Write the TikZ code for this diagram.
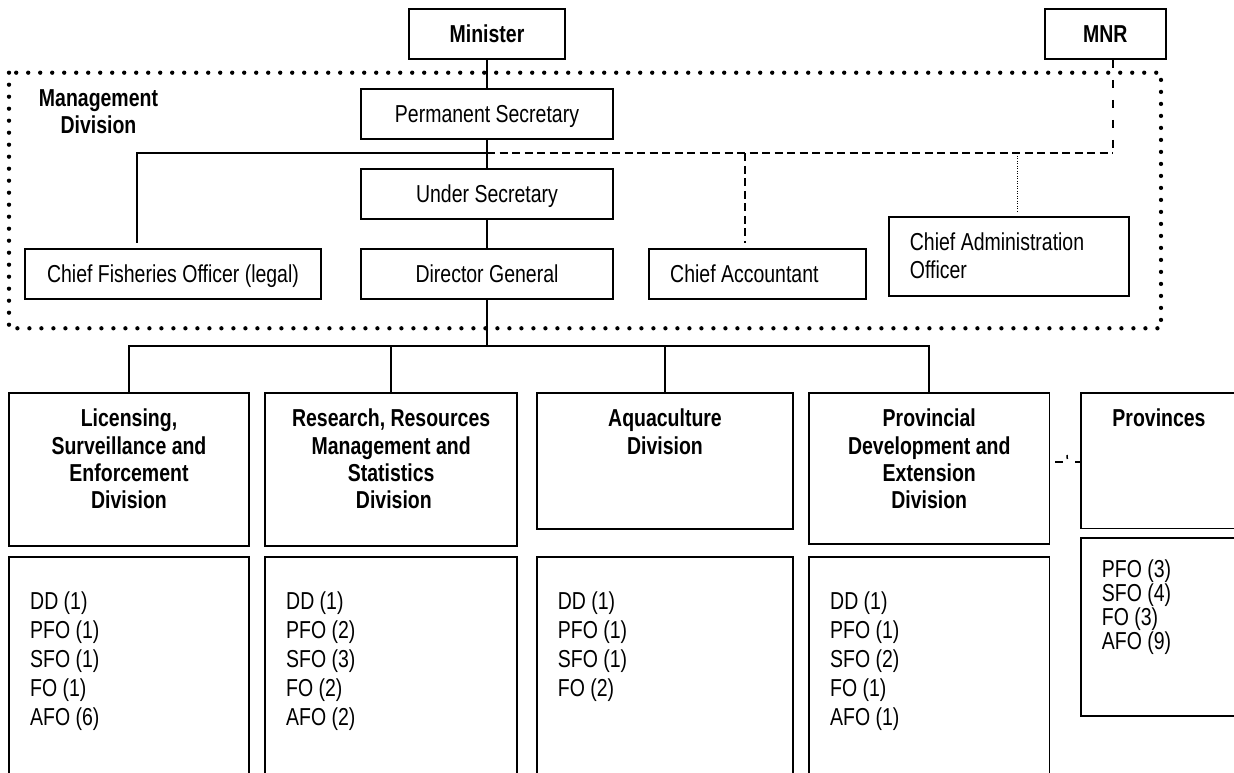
\documentclass[tikz,border=0pt]{standalone}
\usepackage{fontspec}
\setmainfont{Liberation Sans}[FakeStretch=0.795]
\newcommand\fsz{\fontsize{24.5}{27.3}\selectfont}
\newcommand\lst{\fontsize{24.5}{29}\selectfont}
\newcommand\lsp{\fontsize{24.5}{22.7}\selectfont}
\newcommand\st{\rule{0pt}{18pt}}
\newcommand\mkbox[7][]{%
  \node[box,#1,minimum width={#5-#3},minimum height={#6-#4}] (#2) at ({(#3+#5)/2},{(#4+#6)/2}) {#7};}
\tikzset{
  box/.style={draw, line width=1.8pt, inner sep=0pt, text height=17.5pt, text depth=0pt, font=\fsz},
  txt/.style={inner sep=0pt, font=\fsz},
  conn/.style={line width=1.8pt},
  dashconn/.style={line width=1.8pt, dash pattern=on 8pt off 4.5pt},
  dashvert/.style={line width=1.8pt, dash pattern=on 8pt off 12pt},
  finedot/.style={line width=1pt, dash pattern=on 1pt off 1.5pt},
  dotborder/.style={line width=4.3pt, dash pattern=on 0pt off 12pt, line cap=round},
}
\begin{document}
\begin{tikzpicture}[x=1pt,y=-1pt]
\useasboundingbox[fill=white] (0,0) rectangle (1234,773);
% dotted management border
\draw[dotborder] (9,72.7) rectangle (1161,328.3);
% top boxes
\mkbox{min}{408.7}{9}{565.3}{59}{\bfseries Minister}
\mkbox{mnr}{1045}{9}{1165.7}{59}{\bfseries MNR}
\mkbox{ps}{360.7}{89}{613.3}{138.7}{Permanent Secretary}
\mkbox{us}{360.7}{169}{613.3}{219}{Under Secretary}
\mkbox{dg}{360.7}{249}{613.3}{299}{Director General}
\mkbox{cfo}{24.7}{249}{321.3}{299}{Chief Fisheries Officer (legal)}
\mkbox{ca}{648.7}{249}{865.7}{299}{}
\mkbox{cao}{888.7}{217}{1129.3}{295.7}{}
\node[txt, anchor=base west] (catxt) at (670,282.5) {Chief Accountant};
\node[txt, anchor=north west, align=left] (caotxt) at (909.7,232.5) {\st Chief Administration\\Officer};
\node[txt, anchor=north, align=center] (mgmt) at (98.5,88) {\bfseries\st Management\\\bfseries Division};
% division boxes
\mkbox{lic}{9}{393.3}{249}{546}{}
\mkbox{res}{265}{393.3}{517.3}{546}{}
\mkbox{aqu}{536.7}{393.3}{793.3}{529.3}{}
\mkbox{pde}{809}{393.3}{1049.5}{544}{}
\mkbox{prv}{1081}{393.3}{1237}{528.5}{}
\node[txt, anchor=north, align=center] (lich) at (lic.north |- 0,408.7) {\bfseries\st Licensing,\\\bfseries Surveillance and\\\bfseries Enforcement\\\bfseries Division};
\node[txt, anchor=north, align=center] (resh) at (res.north |- 0,408.7) {\bfseries\st Research, Resources\\\bfseries Management and\\\bfseries Statistics\\\bfseries \ Division};
\node[txt, anchor=north, align=center] (aquh) at (aqu.north |- 0,408.7) {\bfseries\st Aquaculture\\\bfseries Division};
\node[txt, anchor=north, align=center] (pdeh) at (pde.north |- 0,408.7) {\bfseries\st Provincial\\\bfseries Development and\\\bfseries Extension\\\bfseries Division};
\node[txt, anchor=north, align=center] (prvh) at (prv.north |- 0,408.7) {\bfseries\st Provinces};
% staff boxes
\mkbox{licl}{9}{557}{249}{800}{}
\mkbox{resl}{265}{557}{517.3}{800}{}
\mkbox{aqul}{536.7}{557}{793.3}{800}{}
\mkbox{pdel}{809}{557}{1049.5}{800}{}
\mkbox{prvl}{1081}{537.7}{1237}{715.7}{}
\node[txt, font=\lst, anchor=north west, align=left] (licx) at (30,591) {\st DD (1)\\PFO (1)\\SFO (1)\\FO (1)\\AFO (6)};
\node[txt, font=\lst, anchor=north west, align=left] (resx) at (286,591) {\st DD (1)\\PFO (2)\\SFO (3)\\FO (2)\\AFO (2)};
\node[txt, font=\lst, anchor=north west, align=left] (aqux) at (557.7,591) {\st DD (1)\\PFO (1)\\SFO (1)\\FO (2)};
\node[txt, font=\lst, anchor=north west, align=left] (pdex) at (830,591) {\st DD (1)\\PFO (1)\\SFO (2)\\FO (1)\\AFO (1)};
\node[txt, font=\lsp, anchor=north west, align=left] (prvx) at (1101.7,559.5) {\st PFO (3)\\SFO (4)\\FO (3)\\AFO (9)};
% connectors
\coordinate (jy) at (487,153.3);
\coordinate (cfoT) at (136.7,243);
\coordinate (mnrJ) at (1113.3,153.3);
\coordinate (caT) at (745.3,243);
\coordinate (caoT) at (1017.3,211.7);
\coordinate (bus) at (487,346);
\coordinate (pc) at (0,462);
\draw[conn] (min.south) -- (ps.north);
\draw[conn] (ps.south) -- (us.north);
\draw[conn] (us.south) -- (dg.north);
\draw[conn] (jy) -| (cfoT);
\draw[dashconn] (jy) -- (mnrJ);
\draw[dashvert] (mnrJ |- mnr.south) -- (mnrJ);
\draw[dashconn] (caT |- jy) -- (caT);
\draw[finedot] (caoT |- jy) -- (caoT);
\draw[conn] (dg.south) -- (bus);
\draw[conn] (lic.north) -- (lic.north |- bus) -- (pde.north |- bus) -- (pde.north);
\draw[conn] (res.north |- bus) -- (res.north);
\draw[conn] (aqu.north |- bus) -- (aqu.north);
\draw[line width=1.8pt, dash pattern=on 0pt off 5pt on 8pt off 12pt on 6pt off 0pt] (pde.east |- pc) -- (prv.west |- pc);
\draw[line width=1.5pt] (1067,455) -- (1067.3,459);
\end{tikzpicture}
\end{document}
